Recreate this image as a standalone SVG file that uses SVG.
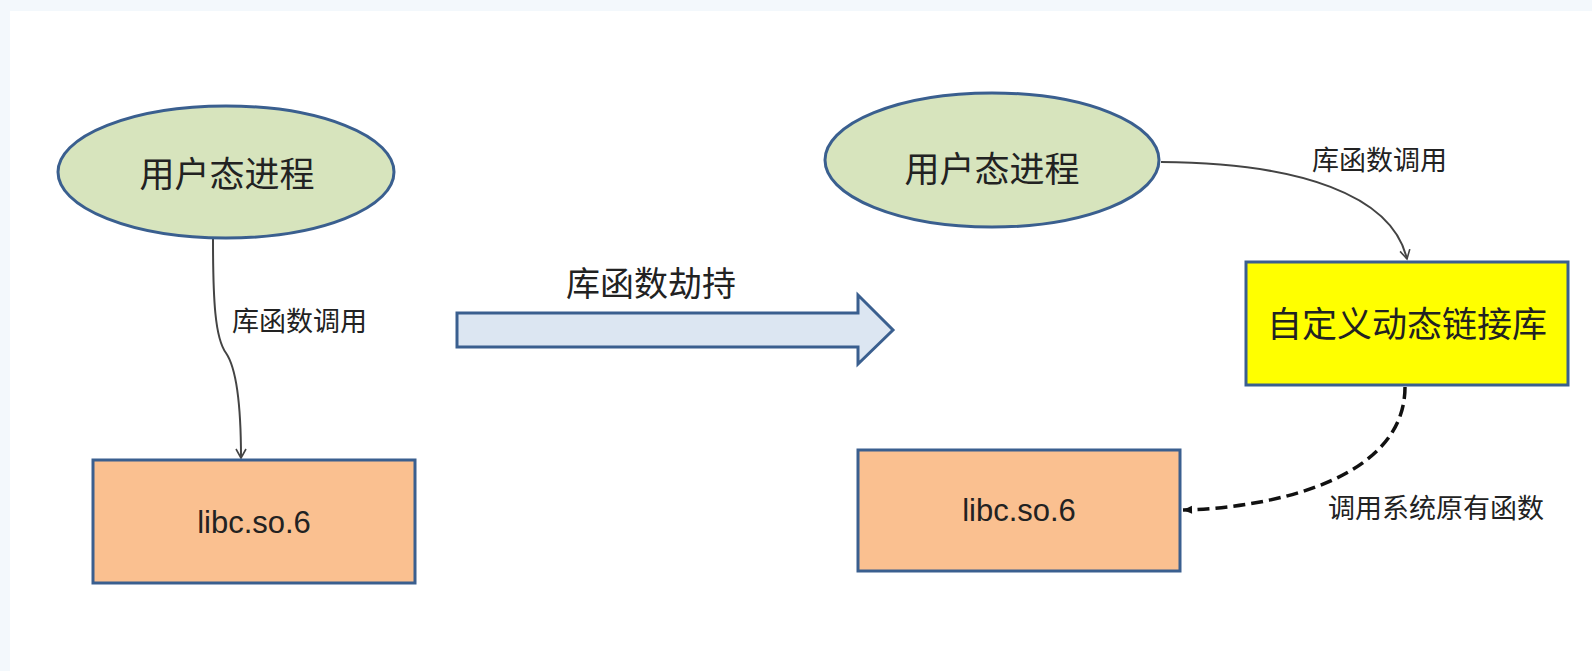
<svg xmlns="http://www.w3.org/2000/svg" width="1592" height="671" viewBox="0 0 1592 671">
<defs>
<style>
.ell{fill:#d7e4bd;stroke:#3a5f8f;stroke-width:3}
.box{fill:#fac090;stroke:#3a5f8f;stroke-width:3}
.ybox{fill:#ffff00;stroke:#3a5f8f;stroke-width:3}
.big{font-family:"Liberation Sans","Noto Sans CJK SC",sans-serif;fill:#222;text-anchor:middle}
.lbl{font-family:"Noto Sans CJK SC",sans-serif;fill:#222;font-size:27px}
.con{fill:none;stroke:#444;stroke-width:2}
</style>
<marker id="ah" viewBox="0 0 12 12" refX="10" refY="6" markerWidth="12" markerHeight="12" markerUnits="userSpaceOnUse" orient="auto">
<path d="M1,1 L10,6 L1,11" fill="none" stroke="#444" stroke-width="1.6"/>
</marker>
<marker id="ah2" viewBox="0 0 12 12" refX="10" refY="6" markerWidth="12" markerHeight="12" markerUnits="userSpaceOnUse" orient="auto">
<path d="M1,2 L10,6 L1,10 Z" fill="#111"/>
</marker>
</defs>
<rect x="0" y="0" width="1592" height="671" fill="#f3f8fc"/>
<rect x="10" y="11" width="1582" height="660" fill="#ffffff"/>

<g id="connectors">
<path class="con" d="M213,239 C213,300 215,338 226,353 C239,372 241,425 241,458" marker-end="url(#ah)"/>
<path class="con" d="M1161,162 C1300,163 1392,195 1407,259" marker-end="url(#ah)"/>
<path d="M1405,387 C1405,480 1270,508 1183,510" fill="none" stroke="#111" stroke-width="3.5" stroke-dasharray="12,6" marker-end="url(#ah2)"/>
<text class="lbl" x="232" y="331">库函数调用</text>
<text class="lbl" x="1312" y="170">库函数调用</text>
<text class="lbl" x="1328" y="518">调用系统原有函数</text>
</g>

<g id="hijack">
<path d="M457,313 L858,313 L858,295 L893,330 L858,364 L858,347 L457,347 Z" fill="#dce6f2" stroke="#3a5f8f" stroke-width="3"/>
<text class="big" x="651" y="296" font-size="34">库函数劫持</text>
</g>

<g id="user-left">
<ellipse class="ell" cx="226" cy="172" rx="168" ry="66"/>
<text class="big" x="227" y="187" font-size="35">用户态进程</text>
</g>

<g id="libc-left">
<rect class="box" x="93" y="460" width="322" height="123"/>
<text class="big" x="254" y="533" font-size="31">libc.so.6</text>
</g>

<g id="user-right">
<ellipse class="ell" cx="992" cy="160" rx="167" ry="67"/>
<text class="big" x="992" y="182" font-size="35">用户态进程</text>
</g>

<g id="custom-lib">
<rect class="ybox" x="1246" y="262" width="322" height="123"/>
<text class="big" x="1407" y="337" font-size="35">自定义动态链接库</text>
</g>

<g id="libc-right">
<rect class="box" x="858" y="450" width="322" height="121"/>
<text class="big" x="1019" y="521" font-size="31">libc.so.6</text>
</g>
</svg>
